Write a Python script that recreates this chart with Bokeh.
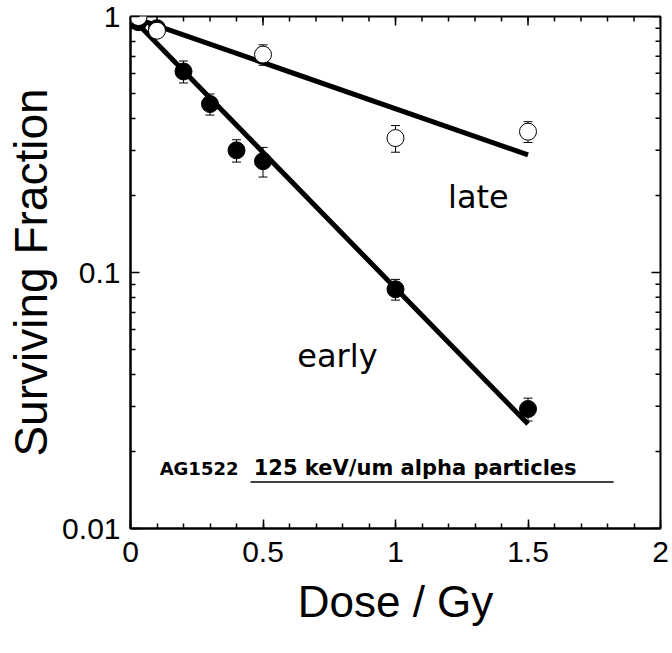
import math
from bokeh.plotting import figure
from bokeh.models import (ColumnDataSource, Whisker, TeeHead, FixedTicker, Range1d)
from bokeh.core.properties import value
from bokeh.embed import file_html
from bokeh.resources import INLINE

# ---- data ----
late_dose = [0.0, 0.03, 0.1, 0.5, 1.0, 1.5]
late_sf = [1.01, 0.995, 0.88, 0.71, 0.335, 0.355]
late_err = [0.0, 0.0, 0.04, 0.065, 0.04, 0.033]

early_dose = [0.03, 0.1, 0.2, 0.3, 0.4, 0.5, 1.0, 1.5]
early_sf = [0.95, 0.90, 0.61, 0.455, 0.30, 0.272, 0.086, 0.0293]
early_err = [0.05, 0.05, 0.06, 0.043, 0.03, 0.036, 0.008, 0.003]

fit_dose = [0.0, 1.5]
early_fit = [1.0, 0.0256]
late_fit = [1.0, 0.288]

x_ticks = [0, 0.5, 1, 1.5, 2]
x_tick_labels = ["0", "0.5", "1", "1.5", "2"]
y_ticks = [0.01, 0.1, 1]
y_tick_labels = ["0.01", "0.1", "1"]

AX = "Liberation Sans"

p = figure(width=672, height=653, y_axis_type="log", output_backend="svg",
           toolbar_location=None, x_range=Range1d(0, 2), y_range=Range1d(0.01, 1),
           min_border_left=130, min_border_right=12, min_border_top=16,
           min_border_bottom=125)
p.grid.visible = False
p.outline_line_color = "black"
p.outline_line_width = 2
p.background_fill_color = "white"
p.border_fill_color = "white"

x_minor = [round(0.1 * i, 2) for i in range(21)]
y_minor = [m * 10 ** e for e in (-2, -1) for m in range(2, 10)]

xa = p.xaxis[0]
ya = p.yaxis[0]
xa.ticker = FixedTicker(ticks=x_ticks, minor_ticks=x_minor)
ya.ticker = FixedTicker(ticks=y_ticks, minor_ticks=y_minor)
xa.major_label_overrides = {t: l for t, l in zip(x_ticks, x_tick_labels)}
ya.major_label_overrides = {t: l for t, l in zip(y_ticks, y_tick_labels)}
for ax in (xa, ya):
    ax.axis_line_width = 2
    ax.axis_line_color = "black"
    ax.major_tick_in = 9
    ax.major_tick_out = 0
    ax.minor_tick_in = 5
    ax.minor_tick_out = 0
    ax.major_tick_line_width = 1.5
    ax.minor_tick_line_width = 1.5
    ax.major_label_text_font = AX
    ax.major_label_text_font_size = "30px"
    ax.major_label_text_color = "black"
    ax.axis_label_text_font = AX
    ax.axis_label_text_font_style = "normal"
    ax.axis_label_text_color = "black"
xa.major_label_standoff = 13
ya.major_label_standoff = 10
xa.axis_label = "Dose / Gy"
ya.axis_label = "Surviving Fraction"
xa.axis_label_text_font_size = "44px"
ya.axis_label_text_font_size = "46px"
xa.axis_label_standoff = 12
ya.axis_label_standoff = 2

# inward ticks on the top and right edges of the frame
p.ray(x=x_ticks, y=[1] * len(x_ticks), length=9, angle=-math.pi / 2,
      length_units="screen", line_color="black", line_width=1.5)
p.ray(x=x_minor, y=[1] * len(x_minor), length=5, angle=-math.pi / 2,
      length_units="screen", line_color="black", line_width=1.5)
p.ray(x=[2] * len(y_ticks), y=y_ticks, length=9, angle=math.pi,
      length_units="screen", line_color="black", line_width=1.5)
p.ray(x=[2] * len(y_minor), y=y_minor, length=5, angle=math.pi,
      length_units="screen", line_color="black", line_width=1.5)

# fits
p.line(fit_dose, early_fit, line_color="black", line_width=5)
p.line(fit_dose, late_fit, line_color="black", line_width=5)

# error bars
def err_source(d, s, e):
    return ColumnDataSource(dict(x=d, y=s,
                                 upper=[a + b for a, b in zip(s, e)],
                                 lower=[a - b for a, b in zip(s, e)]))

es = err_source(early_dose, early_sf, early_err)
ls = err_source(late_dose, late_sf, late_err)
for src in (es, ls):
    w = Whisker(base="x", upper="upper", lower="lower", source=src,
                line_color="black", line_width=1,
                upper_head=TeeHead(size=9, line_color="black", line_width=1),
                lower_head=TeeHead(size=9, line_color="black", line_width=1),
                level="underlay")
    p.add_layout(w)

p.scatter("x", "y", source=es, size=17, marker="circle", fill_color="black",
          line_color="black")
p.scatter("x", "y", source=ls, size=17, marker="circle", fill_color="white",
          line_color="black", line_width=1)

# annotations
p.text(x=[1.313], y=[0.198], text=["late"], text_font=value("DejaVu Sans"),
       text_font_size="32px", text_align="center", text_baseline="middle",
       text_color="black")
p.text(x=[0.781], y=[0.0471], text=["early"], text_font=value("DejaVu Sans"),
       text_font_size="32px", text_align="center", text_baseline="middle",
       text_color="black")
p.text(x=[0.11], y=[0.0172], text=["AG1522"], text_font=value("DejaVu Sans"),
       text_font_size="18px", text_font_style="bold", text_align="left",
       text_baseline="middle", text_color="black")
p.text(x=[0.465], y=[0.0172], text=["125 keV/um alpha particles"],
       text_font=value("DejaVu Sans"), text_font_size="21px",
       text_font_style="bold", text_align="left", text_baseline="middle",
       text_color="black")
p.line([0.453, 1.823], [0.0152, 0.0152], line_color="black", line_width=1.5)

open("out.html", "w").write(file_html(p, INLINE))
